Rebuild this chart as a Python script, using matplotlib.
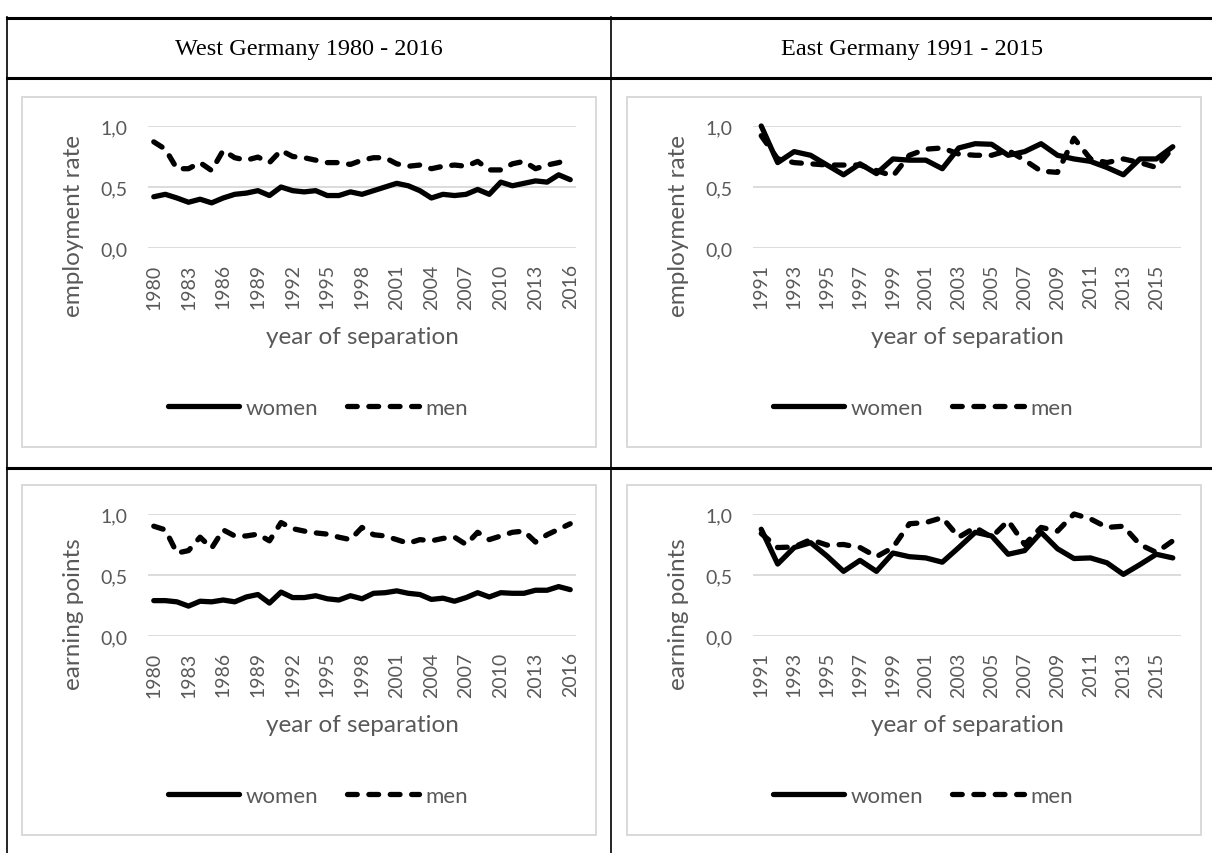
import matplotlib
matplotlib.use("Agg")
import matplotlib.pyplot as plt
from matplotlib.lines import Line2D
from matplotlib.patches import Rectangle

plt.rcParams['font.family'] = ['Lato', 'DejaVu Sans']

# data
west_years = list(range(1980, 2017))
east_years = list(range(1991, 2017))

west_emp_women = [0.42, 0.44, 0.41, 0.375, 0.40, 0.37, 0.41, 0.44, 0.45, 0.47,
                  0.43, 0.50, 0.47, 0.46, 0.47, 0.43, 0.43, 0.46, 0.44, 0.47,
                  0.50, 0.53, 0.51, 0.47, 0.41, 0.44, 0.43, 0.44, 0.48, 0.44,
                  0.54, 0.51, 0.53, 0.55, 0.54, 0.60, 0.56]
west_emp_men = [0.87, 0.81, 0.65, 0.65, 0.70, 0.635, 0.80, 0.74, 0.72, 0.745,
                0.70, 0.80, 0.75, 0.74, 0.72, 0.70, 0.70, 0.685, 0.72, 0.74,
                0.74, 0.69, 0.67, 0.68, 0.65, 0.67, 0.68, 0.67, 0.71, 0.64,
                0.64, 0.69, 0.71, 0.65, 0.68, 0.70, 0.73]

east_emp_women = [1.00, 0.70, 0.79, 0.76, 0.68, 0.60, 0.69, 0.61, 0.73, 0.72,
                  0.72, 0.65, 0.82, 0.855, 0.85, 0.76, 0.79, 0.855, 0.76, 0.73,
                  0.71, 0.66, 0.60, 0.73, 0.73, 0.83]
east_emp_men = [0.92, 0.73, 0.70, 0.69, 0.68, 0.68, 0.68, 0.635, 0.59, 0.76,
                0.81, 0.82, 0.77, 0.76, 0.76, 0.80, 0.72, 0.63, 0.62, 0.90,
                0.73, 0.70, 0.73, 0.70, 0.66, 0.82]

west_ep_women = [0.29, 0.29, 0.28, 0.245, 0.285, 0.28, 0.295, 0.28, 0.32, 0.34,
                 0.27, 0.36, 0.315, 0.315, 0.33, 0.305, 0.295, 0.33, 0.305, 0.35,
                 0.355, 0.37, 0.35, 0.34, 0.30, 0.31, 0.285, 0.315, 0.355, 0.32,
                 0.355, 0.35, 0.35, 0.375, 0.375, 0.405, 0.38]
west_ep_men = [0.90, 0.87, 0.68, 0.70, 0.81, 0.72, 0.87, 0.82, 0.82, 0.835,
               0.78, 0.93, 0.88, 0.86, 0.845, 0.835, 0.81, 0.79, 0.89, 0.83,
               0.82, 0.79, 0.76, 0.79, 0.78, 0.80, 0.81, 0.75, 0.85, 0.79,
               0.82, 0.85, 0.86, 0.77, 0.83, 0.875, 0.92]

east_ep_women = [0.875, 0.59, 0.725, 0.765, 0.655, 0.53, 0.62, 0.53, 0.68, 0.65,
                 0.64, 0.605, 0.725, 0.85, 0.82, 0.67, 0.70, 0.85, 0.715, 0.635,
                 0.64, 0.60, 0.505, 0.585, 0.67, 0.64]
east_ep_men = [0.84, 0.725, 0.73, 0.79, 0.745, 0.75, 0.725, 0.65, 0.725, 0.92,
               0.93, 0.97, 0.81, 0.89, 0.81, 0.945, 0.75, 0.89, 0.86, 1.00,
               0.96, 0.89, 0.90, 0.75, 0.685, 0.78]

ytick_vals = [0.0, 0.5, 1.0]
ytick_labels = ['0,0', '0,5', '1,0']
headers = ['West Germany 1980 - 2016', 'East Germany 1991 - 2015']

W, H = 1212, 854
GRAY = '#595959'
GRID = '#D9D9D9'

fig = plt.figure(figsize=(W / 100, H / 100), dpi=100)
fig.patch.set_facecolor('white')


def fx(px):
    return px / W


def fy(py):
    return 1 - py / H


def hline(y, x0, x1, lw):
    fig.add_artist(Line2D([fx(x0), fx(x1)], [fy(y), fy(y)], color='black', lw=lw,
                          transform=fig.transFigure))


def vline(x, y0, y1, lw):
    fig.add_artist(Line2D([fx(x), fx(x)], [fy(y0), fy(y1)], color='black', lw=lw,
                          transform=fig.transFigure))


# table grid
hline(19, 7, 1212, 2.2)
hline(79, 7, 1212, 2.2)
hline(469, 7, 1212, 2.2)
vline(7, 18, 854, 1.2)
vline(611, 18, 854, 1.2)

fig.text(fx(309), fy(49), headers[0], family='Liberation Serif', fontsize=17.5,
         ha='center', va='center', color='black')
fig.text(fx(912), fy(49), headers[1], family='Liberation Serif', fontsize=17.5,
         ha='center', va='center', color='black')


def chart(box_left, box_top, years, women, men, ylabel, step):
    # chart frame
    fig.add_artist(Rectangle((fx(box_left), fy(box_top + 350)), 574 / W, 350 / H,
                             transform=fig.transFigure, fill=False,
                             edgecolor=GRID, lw=1.4))
    left = box_left + 126
    top = box_top + 29
    pw, ph = 428, 122
    ax = fig.add_axes([fx(left), fy(top + ph), pw / W, ph / H])
    x = list(range(len(years)))
    ax.plot(x, women, color='black', lw=3.8, solid_joinstyle='round',
            solid_capstyle='round', clip_on=False, label='women')
    ax.plot(x, men, color='black', lw=3.8, dashes=(1.85, 2.2),
            dash_capstyle='round', dash_joinstyle='round', clip_on=False, label='men')
    ax.set_xlim(-0.5, len(years) - 0.5)
    ax.set_ylim(0, 1)
    ax.set_yticks(ytick_vals)
    ax.set_yticklabels(ytick_labels)
    ticks = list(range(0, len(years), step))
    ax.set_xticks(ticks)
    ax.set_xticklabels([str(years[i]) for i in ticks], rotation=90)
    ax.tick_params(length=0, colors=GRAY, labelsize=14)
    ax.tick_params(axis='y', pad=15)
    ax.tick_params(axis='x', pad=11)
    ax.grid(axis='y', color=GRID, lw=1.3)
    ax.set_axisbelow(True)
    for s in ax.spines.values():
        s.set_visible(False)
    ax.patch.set_alpha(0)

    fig.text(fx(left + pw / 2), fy(top + 211), 'year of separation', fontsize=17.5,
             color=GRAY, ha='center', va='center')
    fig.text(fx(box_left + 51), fy(top + 99), ylabel, fontsize=17.5, color=GRAY,
             ha='center', va='center', rotation=90)
    ax.legend(loc='center', bbox_to_anchor=(fx(box_left + 296), fy(top + 282)),
              bbox_transform=fig.transFigure, ncol=2, frameon=False,
              handlelength=3.2, handletextpad=0.3, columnspacing=1.3,
              fontsize=16, labelcolor=GRAY)


chart(22, 98, west_years, west_emp_women, west_emp_men, 'employment rate', 3)
chart(627, 98, east_years, east_emp_women, east_emp_men, 'employment rate', 2)
chart(22, 486, west_years, west_ep_women, west_ep_men, 'earning points', 3)
chart(627, 486, east_years, east_ep_women, east_ep_men, 'earning points', 2)

fig.savefig('out.png', dpi=100)
